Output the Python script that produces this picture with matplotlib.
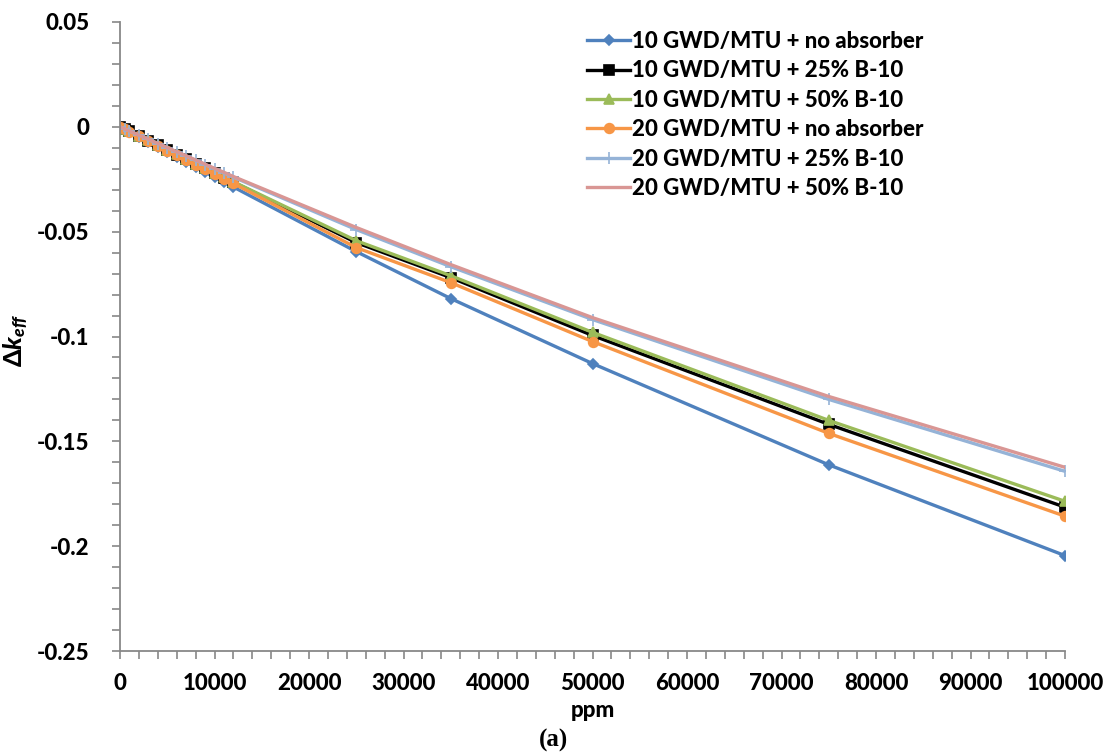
import matplotlib
matplotlib.use("Agg")
import matplotlib.pyplot as plt
from matplotlib.ticker import MultipleLocator

plt.rcParams['font.family'] = ['Lato', 'DejaVu Sans']
plt.rcParams['mathtext.fontset'] = 'custom'
plt.rcParams['mathtext.rm'] = 'Lato:black'
plt.rcParams['mathtext.it'] = 'Lato:black:italic'
plt.rcParams['mathtext.bf'] = 'Lato:black'

ppm = [0, 500, 1000, 2000, 3000, 4000, 5000, 6000, 7000, 8000, 9000, 10000, 11000, 12000,
       25000, 35000, 50000, 75000, 100000]

bu10_none = [0, -0.0012, -0.0024, -0.0048, -0.0072, -0.0096, -0.0120, -0.0144, -0.0168,
             -0.0192, -0.0216, -0.0240, -0.0263, -0.0287, -0.0595, -0.0819, -0.1129, -0.1612, -0.2045]
bu10_25 = [0, -0.0011, -0.0022, -0.0044, -0.0066, -0.0088, -0.0110, -0.0132, -0.0154,
           -0.0176, -0.0198, -0.0220, -0.0242, -0.0264, -0.0552, -0.0719, -0.0995, -0.1419, -0.1814]
bu10_50 = [0, -0.0011, -0.0022, -0.0044, -0.0065, -0.0087, -0.0109, -0.0131, -0.0153,
           -0.0175, -0.0196, -0.0218, -0.0240, -0.0262, -0.0543, -0.0710, -0.0980, -0.1400, -0.1786]
bu20_none = [0, -0.0011, -0.0023, -0.0045, -0.0068, -0.0090, -0.0113, -0.0135, -0.0158,
             -0.0180, -0.0203, -0.0225, -0.0248, -0.0270, -0.0576, -0.0743, -0.1024, -0.1462, -0.1857]
bu20_25 = [0, -0.0010, -0.0020, -0.0040, -0.0060, -0.0080, -0.0100, -0.0120, -0.0140,
           -0.0160, -0.0180, -0.0200, -0.0220, -0.0240, -0.0490, -0.0667, -0.0919, -0.1300, -0.1643]
bu20_50 = [0, -0.0010, -0.0020, -0.0040, -0.0059, -0.0079, -0.0099, -0.0119, -0.0138,
           -0.0158, -0.0178, -0.0198, -0.0217, -0.0237, -0.0480, -0.0657, -0.0910, -0.1286, -0.1624]

labels = ["10 GWD/MTU + no absorber", "10 GWD/MTU + 25% B-10", "10 GWD/MTU + 50% B-10",
          "20 GWD/MTU + no absorber", "20 GWD/MTU + 25% B-10", "20 GWD/MTU + 50% B-10"]
series = [bu10_none, bu10_25, bu10_50, bu20_none, bu20_25, bu20_50]
colors = ["#4F81BD", "#000000", "#9BBB59", "#F79646", "#95B3D7", "#D99694"]
markers = ["D", "s", "^", "o", "+", None]
msizes = [5, 7, 7, 7, 8, 0]

fig = plt.figure(figsize=(11.06, 7.53), dpi=100)
ax = fig.add_axes([120/1106, 1-651/753, (1065-120)/1106, (651-22)/753])

for y, lab, c, m, ms in zip(series, labels, colors, markers, msizes):
    ax.plot(ppm, y, color=c, lw=2.4, marker=m, markersize=ms, label=lab,
            markeredgecolor=c, markeredgewidth=1.2)

ax.set_xlim(0, 100000)
ax.set_ylim(-0.25, 0.05)
ax.xaxis.set_major_locator(MultipleLocator(10000))
ax.xaxis.set_minor_locator(MultipleLocator(2000))
ax.yaxis.set_minor_locator(MultipleLocator(0.01))
ax.set_yticks([0.05, 0, -0.05, -0.1, -0.15, -0.2, -0.25])
ax.set_yticklabels(["0.05", "0", "-0.05", "-0.1", "-0.15", "-0.2", "-0.25"])

for s in ['top', 'right']:
    ax.spines[s].set_visible(False)
for s in ['left', 'bottom']:
    ax.spines[s].set_color('#888888')
    ax.spines[s].set_linewidth(1.3)
ax.tick_params(which='both', direction='out', length=6, color='#888888', width=1.2)
ax.tick_params(axis='both', labelsize=16)
for t in ax.get_xticklabels() + ax.get_yticklabels():
    t.set_fontweight('black')
ax.tick_params(axis='y', pad=16)
ax.tick_params(axis='x', pad=10)

ax.set_xlabel("ppm", fontsize=16, fontweight='black', labelpad=4)
ax.set_ylabel(r"$\mathit{\Delta k}_{\mathit{eff}}$", fontsize=18)
ax.yaxis.set_label_coords((30 - 120) / 945, (651 - 340) / 629)

leg = ax.legend(loc='upper left', bbox_to_anchor=(458/945, 1.0), frameon=False,
                fontsize=16, handlelength=1.95, handletextpad=0.1, labelspacing=0.38,
                borderaxespad=0.0)
for t in leg.get_texts():
    t.set_fontweight('black')

fig.text(0.5, 1-740/753, "(a)", ha='center', va='center', fontsize=18,
         fontweight='bold', family=['Liberation Serif', 'DejaVu Serif'])

fig.savefig("out.png", dpi=100)
